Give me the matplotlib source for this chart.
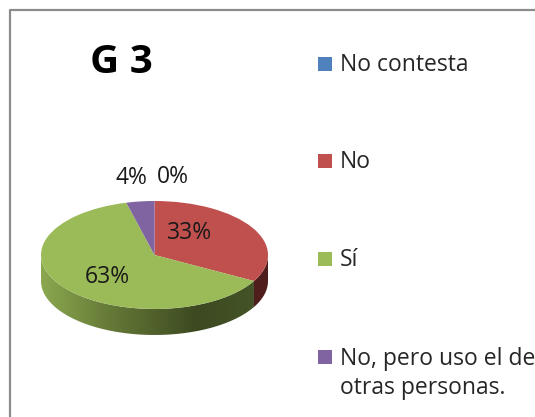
import numpy as np
import matplotlib
matplotlib.use("Agg")
import matplotlib.pyplot as plt
from matplotlib.colors import LinearSegmentedColormap
from matplotlib.patches import PathPatch, Rectangle
from matplotlib.path import Path

plt.rcParams["font.family"] = ["Open Sans", "DejaVu Sans"]

# Data
labels = ["No contesta", "No", "Sí", "No, pero uso el de\notras personas."]
values = [0, 33, 63, 4]
colors = ["#4F81BD", "#C0504D", "#9BBB59", "#8064A2"]
wall_green = ["#8BA84F", "#667A38", "#3D4A21", "#46552A"]
wall_red = "#4F1D1C"
legend_y = [64, 161, 259, 357]

W, H = 535, 417
fig = plt.figure(figsize=(W / 100, H / 100), dpi=100, facecolor="white")

# page overlay in pixel units
page = fig.add_axes([0, 0, 1, 1])
page.set_xlim(0, W)
page.set_ylim(H, 0)
page.axis("off")
page.plot([10, 10, W], [H, 10, 10], color="#8C8C8C", lw=1.6)
page.text(121, 62, "G 3", fontsize=29, fontweight="bold", color="black",
          ha="center", va="center")

for lab, col, y in zip(labels, colors, legend_y):
    page.add_patch(Rectangle((318, y - 7), 14, 14, color=col, lw=0))
    page.text(340, y - 10 if "\n" in lab else y + 1, lab, fontsize=16.5, color="#262626",
              va="top" if "\n" in lab else "center", linespacing=1.25)

# pie: ellipse spanning x 41-268, y 201-309, wall down to 335
depth = 26 / 54
ax = fig.add_axes([41 / W, 1 - 335 / H, 227 / W, 134 / H], zorder=2)
ax.patch.set_alpha(0)
wedges, _ = ax.pie(values, colors=colors, startangle=90, counterclock=False,
                   radius=1, wedgeprops={"linewidth": 0})
ax.set_aspect("auto")
ax.axis("off")
for w in wedges:
    w.set_zorder(3)

# side wall starts where the red slice ends
split = np.deg2rad(90 - 360 * values[1] / sum(values))


def wall_path(a0, a1):
    t = np.linspace(a0, a1, 80)
    x, y = np.cos(t), np.sin(t)
    verts = np.r_[np.c_[x, y], np.c_[x, y - depth][::-1], [[x[0], y[0]]]]
    return Path(verts)


cmap = LinearSegmentedColormap.from_list(
    "wall", list(zip([0, 0.3, 0.68, 1], wall_green)))
grad = ax.imshow(np.linspace(0, 1, 256)[None, :], cmap=cmap, aspect="auto",
                 extent=[-1, 1, -1 - depth, 1], zorder=1)
clip = PathPatch(wall_path(-np.pi, split), transform=ax.transData, fc="none", ec="none")
ax.add_patch(clip)
grad.set_clip_path(clip)
ax.add_patch(PathPatch(wall_path(split, 0), fc=wall_red, ec="none", zorder=1))
ax.set_xlim(-1, 1)
ax.set_ylim(-1 - depth, 1)

# percent labels
pct = ["0%", "33%", "63%", "4%"]
pct_xy = [(173, 177), (190, 233), (107, 277), (131, 178)]
for t, (x, y) in zip(pct, pct_xy):
    page.text(x, y, t, fontsize=16.5, color="#1A1A1A", ha="center", va="center", zorder=5)
page.set_zorder(3)
page.patch.set_alpha(0)

fig.savefig("out.png", dpi=100)
